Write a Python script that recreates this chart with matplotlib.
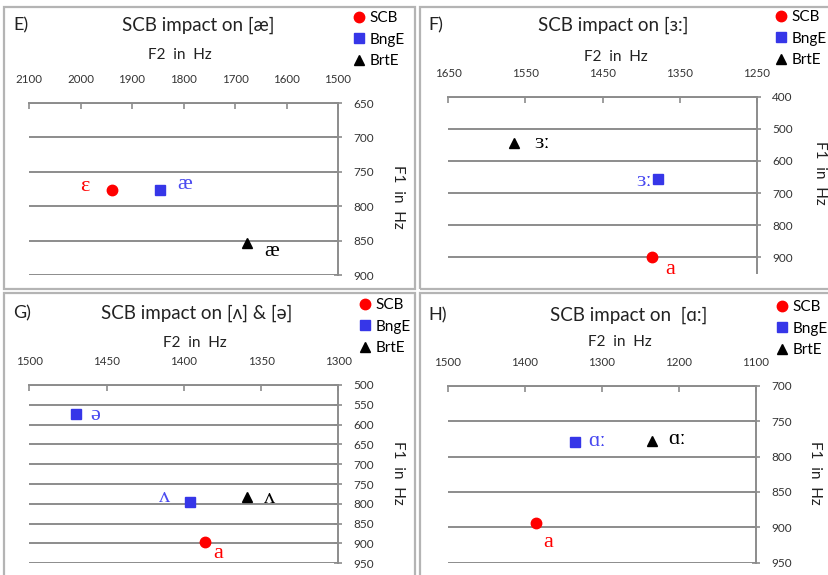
import matplotlib
matplotlib.use('Agg')
import matplotlib.pyplot as plt
from matplotlib.patches import Rectangle

W, H = 829, 575

# panel texts
panel_tags = ['E)', 'F)', 'G)', 'H)']
titles = ['SCB impact on [æ]', 'SCB impact on [ɜ:]',
          'SCB impact on [ʌ] & [ə]', 'SCB impact on  [ɑ:]']

# axis ticks (F2 on top, F1 on the right)
f2_ticks = [[2100, 2000, 1900, 1800, 1700, 1600, 1500],
            [1650, 1550, 1450, 1350, 1250],
            [1500, 1450, 1400, 1350, 1300],
            [1500, 1400, 1300, 1200, 1100]]
f1_ticks = [[650, 700, 750, 800, 850, 900],
            [400, 500, 600, 700, 800, 900],
            [500, 550, 600, 650, 700, 750, 800, 850, 900, 950],
            [700, 750, 800, 850, 900, 950]]
f1_bottom = [900, 950, 950, 950]

# formant values (Hz) per panel
scb_f2 = [[1939], [1386], [1386], [1385]]
scb_f1 = [[776], [898], [897], [894]]
bnge_f2 = [[1846], [1378], [1470, 1396], [1335]]
bnge_f1 = [[777], [657], [572, 795], [780]]
brte_f2 = [[1677], [1565], [1359], [1235]]
brte_f1 = [[853], [545], [783], [778]]

scb_vowels = [['ɛ'], ['a'], ['a'], ['a']]
bnge_vowels = [['æ'], ['ɜː'], ['ə', 'ʌ'], ['ɑː']]
brte_vowels = [['æ'], ['ɜː'], ['ʌ'], ['ɑː']]

# label offsets from the marker, in pixels (x right, y down)
scb_offsets = [[(-27, -3)], [(18, 13)], [(13, 11)], [(12, 19)]]
bnge_offsets = [[(25, -6)], [(-14, 2)], [(20, 2), (-25, -4)], [(22, -1)]]
brte_offsets = [[(25, 9)], [(28, 0)], [(22, 1)], [(25, -1)]]

# layout in pixels
axes_boxes = [(29, 103, 338, 275), (448, 96.7, 757, 273.4),
              (29.3, 385, 338.3, 563.3), (448, 385.7, 755.7, 562.7)]
frames = [(4, 7, 415, 289), (420, 7, 840, 289),
          (4, 293, 415, 590), (420, 293, 840, 590)]
title_xy = [(198, 25), (613, 25), (197, 313), (629, 315)]
tag_xy = [(13, 25), (428, 25), (13, 313), (428, 315)]
f2_label_xy = [(180, 55), (616, 57), (195, 343), (620, 342)]
f1_label_xy = [(398, 197), (820, 173), (398, 473), (815, 473)]
legend_xy = [(353, 11), (775, 10), (359, 298), (776, 300)]

RED = '#ff0000'
BLUE = '#3636e8'
BLUE_TXT = '#4a4af0'
GRID = '#8c8c8c'
SANS = ['Lato', 'DejaVu Sans']
SERIF = ['Liberation Serif', 'DejaVu Serif']


def fx(x):
    return x / W


def fy(y):
    return 1 - y / H


def label_points(ax, f2, f1, vowels, offsets, color):
    for x, y, v, (dx, dy) in zip(f2, f1, vowels, offsets):
        ax.annotate(v, (x, y), xytext=(dx * 0.72, -dy * 0.72),
                    textcoords='offset points', ha='center', va='center',
                    color=color, fontsize=16, family=SERIF)


def main():
    fig = plt.figure(figsize=(W / 100, H / 100), dpi=100)

    for i in range(4):
        fl, ft, fr, fb = frames[i]
        fig.patches.append(Rectangle((fx(fl), fy(fb)), fx(fr - fl), (fb - ft) / H,
                                     transform=fig.transFigure, fill=False,
                                     edgecolor='#b4b4b4', lw=1.6))

        l, t, r, b = axes_boxes[i]
        ax = fig.add_axes([fx(l), fy(b), fx(r - l), (b - t) / H])
        ax.set_xlim(f2_ticks[i][0], f2_ticks[i][-1])
        ax.set_ylim(f1_bottom[i], f1_ticks[i][0])
        ax.set_xticks(f2_ticks[i])
        ax.set_yticks(f1_ticks[i])
        ax.xaxis.tick_top()
        ax.yaxis.tick_right()
        for side in ['left', 'bottom']:
            ax.spines[side].set_visible(False)
        for side in ['top', 'right']:
            ax.spines[side].set_color(GRID)
            ax.spines[side].set_linewidth(1.4)
        ax.yaxis.grid(True, color=GRID, lw=1.4)
        ax.set_axisbelow(True)
        ax.tick_params(axis='x', direction='in', length=4, width=1.2, color=GRID,
                       pad=13, labelsize=8.3, labelcolor='#333333')
        ax.tick_params(axis='y', direction='inout', length=6, width=1.2, color=GRID,
                       pad=8, labelsize=8.5, labelcolor='#333333')
        for lab in ax.get_xticklabels() + ax.get_yticklabels():
            lab.set_family(SANS)
        ax.patch.set_alpha(0)

        ax.plot(scb_f2[i], scb_f1[i], 'o', color=RED, ms=7.5, label='SCB', clip_on=False)
        ax.plot(bnge_f2[i], bnge_f1[i], 's', color=BLUE, ms=7, label='BngE', clip_on=False)
        ax.plot(brte_f2[i], brte_f1[i], '^', color='black', ms=7.5, label='BrtE', clip_on=False)

        label_points(ax, scb_f2[i], scb_f1[i], scb_vowels[i], scb_offsets[i], RED)
        label_points(ax, bnge_f2[i], bnge_f1[i], bnge_vowels[i], bnge_offsets[i], BLUE_TXT)
        label_points(ax, brte_f2[i], brte_f1[i], brte_vowels[i], brte_offsets[i], 'black')

        lx, ly = legend_xy[i]
        ax.legend(loc='upper left', bbox_to_anchor=(fx(lx), fy(ly)),
                  bbox_transform=fig.transFigure, frameon=False, borderpad=0,
                  borderaxespad=0, handlelength=0.8, handletextpad=0.3,
                  labelspacing=0.5, prop={'family': SANS, 'size': 11})

        fig.text(fx(title_xy[i][0]), fy(title_xy[i][1]), titles[i], ha='center',
                 va='center', fontsize=13.5, family=SANS, color='#222222')
        fig.text(fx(tag_xy[i][0]), fy(tag_xy[i][1]), panel_tags[i], ha='left',
                 va='center', fontsize=13, family=SANS, color='#222222')
        fig.text(fx(f2_label_xy[i][0]), fy(f2_label_xy[i][1]), 'F2  in  Hz',
                 ha='center', va='center', fontsize=11, family=SANS, color='#222222')
        fig.text(fx(f1_label_xy[i][0]), fy(f1_label_xy[i][1]), 'F1  in  Hz',
                 ha='center', va='center', rotation=270, fontsize=11,
                 family=SANS, color='#222222')

    fig.savefig('out.png', dpi=100)


if __name__ == "__main__":
    main()
